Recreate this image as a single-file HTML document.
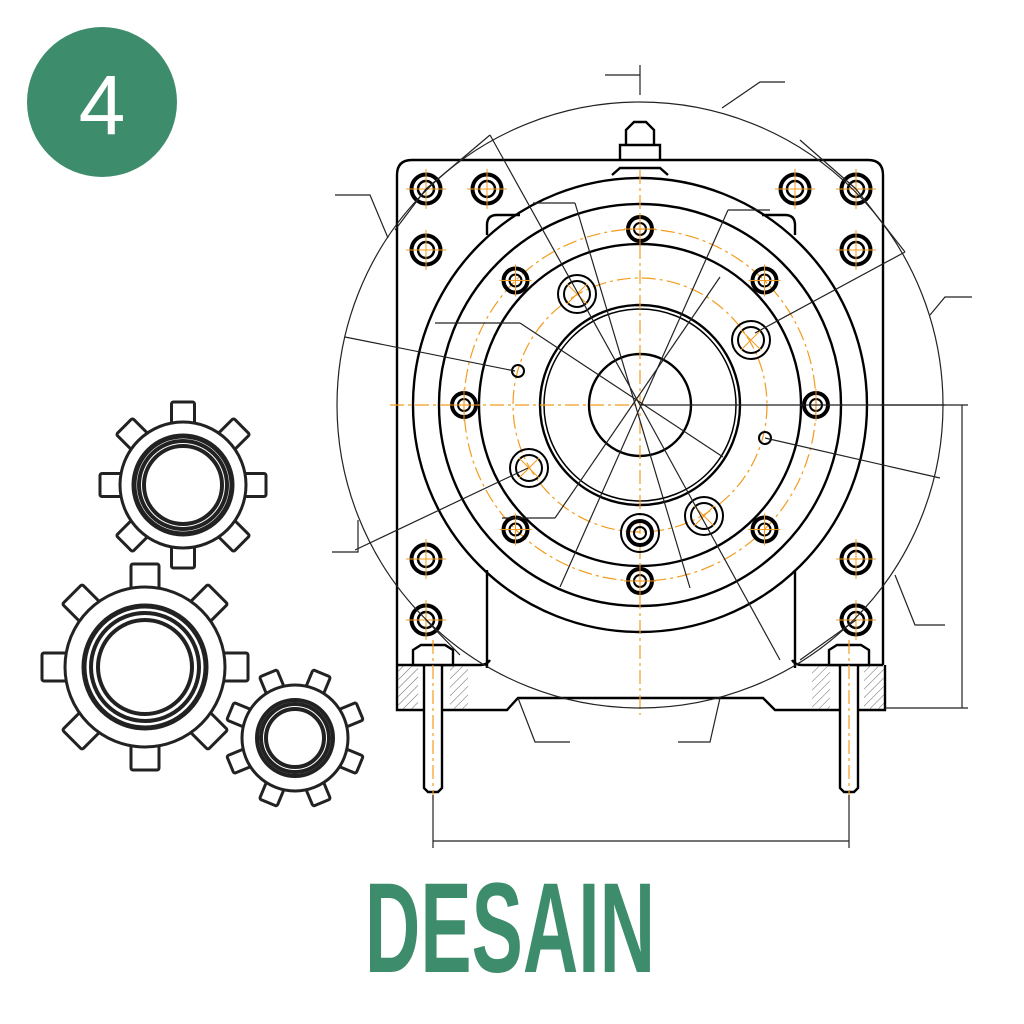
<!DOCTYPE html>
<html><head><meta charset="utf-8"><style>
html,body{margin:0;padding:0;background:#fff;width:1024px;height:1024px;overflow:hidden}
svg{display:block}
</style></head><body>
<svg width="1024" height="1024" viewBox="0 0 1024 1024" xmlns="http://www.w3.org/2000/svg">
<defs>
<pattern id="h" width="6" height="6" patternUnits="userSpaceOnUse" patternTransform="rotate(45)"><line x1="0" y1="0" x2="0" y2="6" stroke="#666" stroke-width="1"/></pattern>
<g id="b">
 <circle r="12" fill="none" stroke="#000" stroke-width="4"/>
 <circle r="6" fill="none" stroke="#000" stroke-width="2"/>
 <path d="M-16,0H16M0,-16V16" stroke="#f39c1f" stroke-width="1"/>
</g>
<g id="c">
 <circle r="14.5" fill="none" stroke="#000" stroke-width="4"/>
 <circle r="8" fill="none" stroke="#000" stroke-width="2.5"/>
 <path d="M-20,0H20M0,-20V20" stroke="#f39c1f" stroke-width="1"/>
</g>
<g id="hl">
 <circle r="19" fill="none" stroke="#000" stroke-width="2"/>
 <circle r="13" fill="none" stroke="#000" stroke-width="2"/>
 <path d="M-10,-10L10,10M-10,10L10,-10" stroke="#f39c1f" stroke-width="1"/>
</g>
</defs>
<circle cx="102" cy="102" r="75" fill="#3d8c6b"/>
<text x="102" y="134" text-anchor="middle" font-family="Liberation Sans, sans-serif" font-size="84" fill="#fff">4</text>
<text x="0" y="972" text-anchor="middle" font-family="Liberation Sans Narrow, Liberation Sans, sans-serif" font-weight="bold" font-size="128" fill="#3d8c6b" transform="translate(510 0) scale(0.6 1)">DESAIN</text>

<g fill="#fff" stroke="#222" stroke-width="3" stroke-linejoin="round">
 <g transform="translate(183,485)">
  <rect x="-11.5" y="-83" width="23" height="30" rx="2"/>
  <rect x="-11.5" y="-83" width="23" height="30" rx="2" transform="rotate(45)"/>
  <rect x="-11.5" y="-83" width="23" height="30" rx="2" transform="rotate(90)"/>
  <rect x="-11.5" y="-83" width="23" height="30" rx="2" transform="rotate(135)"/>
  <rect x="-11.5" y="-83" width="23" height="30" rx="2" transform="rotate(180)"/>
  <rect x="-11.5" y="-83" width="23" height="30" rx="2" transform="rotate(225)"/>
  <rect x="-11.5" y="-83" width="23" height="30" rx="2" transform="rotate(270)"/>
  <rect x="-11.5" y="-83" width="23" height="30" rx="2" transform="rotate(315)"/>
  <circle r="63"/>
  <circle r="49" stroke-width="5" fill="none"/><circle r="44" stroke-width="4" fill="none"/><circle r="39" stroke-width="4" fill="none"/>
 </g>
 <g transform="translate(145,667)">
  <rect x="-14" y="-103" width="28" height="36" rx="2"/>
  <rect x="-14" y="-103" width="28" height="36" rx="2" transform="rotate(45)"/>
  <rect x="-14" y="-103" width="28" height="36" rx="2" transform="rotate(90)"/>
  <rect x="-14" y="-103" width="28" height="36" rx="2" transform="rotate(135)"/>
  <rect x="-14" y="-103" width="28" height="36" rx="2" transform="rotate(180)"/>
  <rect x="-14" y="-103" width="28" height="36" rx="2" transform="rotate(225)"/>
  <rect x="-14" y="-103" width="28" height="36" rx="2" transform="rotate(270)"/>
  <rect x="-14" y="-103" width="28" height="36" rx="2" transform="rotate(315)"/>
  <circle r="80"/>
  <circle r="61" stroke-width="5" fill="none"/><circle r="54" stroke-width="4" fill="none"/><circle r="47" stroke-width="4" fill="none"/>
 </g>
 <g transform="translate(295,738)">
  <rect x="-9.5" y="-70" width="19" height="25" rx="2" transform="rotate(22.5)"/>
  <rect x="-9.5" y="-70" width="19" height="25" rx="2" transform="rotate(67.5)"/>
  <rect x="-9.5" y="-70" width="19" height="25" rx="2" transform="rotate(112.5)"/>
  <rect x="-9.5" y="-70" width="19" height="25" rx="2" transform="rotate(157.5)"/>
  <rect x="-9.5" y="-70" width="19" height="25" rx="2" transform="rotate(202.5)"/>
  <rect x="-9.5" y="-70" width="19" height="25" rx="2" transform="rotate(247.5)"/>
  <rect x="-9.5" y="-70" width="19" height="25" rx="2" transform="rotate(292.5)"/>
  <rect x="-9.5" y="-70" width="19" height="25" rx="2" transform="rotate(337.5)"/>
  <circle r="53"/>
  <circle r="38" stroke-width="4" fill="none"/><circle r="34" stroke-width="4" fill="none"/><circle r="29" stroke-width="4" fill="none"/>
 </g>
</g>

<g fill="none" stroke="#000" stroke-width="2.4">
 <path d="M397,665 V175 Q397,160 412,160 H868 Q883,160 883,175 V665"/>
 <path d="M487,235 V225 Q487,215 497,215 H520 M795,235 V225 Q795,215 785,215 H762"/>
 <path d="M487,570 V668 M795,570 V668"/>
 <path d="M397,665 H480 Q487,665 490,660 M883,665 H802 Q795,665 792,660"/>
 <path d="M397,665 V710 H507 L518,698 H763 L775,710 H885 V665"/>
 <rect x="398" y="666" width="20" height="43" fill="url(#h)" stroke="none"/>
 <rect x="450" y="666" width="18" height="43" fill="url(#h)" stroke="none"/>
 <rect x="812" y="666" width="18" height="43" fill="url(#h)" stroke="none"/>
 <rect x="864" y="666" width="20" height="43" fill="url(#h)" stroke="none"/>
 <path d="M620,160 V145 H660 V160 M626,145 V130 L634,122 H646 L654,130 V145 M612,175 L620,168 H660 L668,175"/>
 <circle cx="640" cy="405" r="227"/>
 <circle cx="640" cy="405" r="201"/>
 <circle cx="640" cy="405" r="161"/>
 <circle cx="640" cy="405" r="100"/>
 <circle cx="640" cy="405" r="96" stroke-width="1.5"/>
 <circle cx="640" cy="405" r="51"/>
 <path d="M413,650 V665 H453 V650 L445,645 H421 Z M424,665 V788 L428,792 H438 L442,788 V665" fill="#fff"/>
 <path d="M829,650 V665 H869 V650 L861,645 H837 Z M840,665 V788 L844,792 H854 L858,788 V665" fill="#fff"/>
</g>
<g fill="none" stroke="#f39c1f" stroke-width="1.2" stroke-dasharray="14 4 3 4">
 <circle cx="640" cy="405" r="176"/>
 <circle cx="640" cy="405" r="127"/>
 <line x1="640" y1="170" x2="640" y2="715"/>
 <line x1="390" y1="405" x2="640" y2="405"/>
 <line x1="433" y1="640" x2="433" y2="800"/>
 <line x1="849" y1="640" x2="849" y2="800"/>
</g>
<g>
 <use href="#c" x="426" y="189"/><use href="#c" x="487" y="189"/><use href="#c" x="426" y="250"/>
 <use href="#c" x="795" y="189"/><use href="#c" x="856" y="189"/><use href="#c" x="856" y="250"/>
 <use href="#c" x="426" y="559"/><use href="#c" x="426" y="620"/><use href="#c" x="856" y="559"/><use href="#c" x="856" y="620"/>
 <use href="#b" x="816" y="405"/><use href="#b" x="764.5" y="529.5"/><use href="#b" x="640" y="581"/><use href="#b" x="515.5" y="529.5"/>
 <use href="#b" x="464" y="405"/><use href="#b" x="515.5" y="280.5"/><use href="#b" x="640" y="229"/><use href="#b" x="764.5" y="280.5"/>
 <circle cx="640" cy="533" r="12" fill="none" stroke="#000" stroke-width="4"/>
 <circle cx="640" cy="533" r="6" fill="none" stroke="#000" stroke-width="2"/>
 <circle cx="640" cy="533" r="19" fill="none" stroke="#000" stroke-width="2"/>
 <use href="#hl" x="577" y="294"/><use href="#hl" x="751" y="340"/><use href="#hl" x="529" y="468"/><use href="#hl" x="704" y="516"/>
 <circle cx="518" cy="371" r="6" fill="none" stroke="#000" stroke-width="2"/>
 <circle cx="765" cy="438" r="6" fill="none" stroke="#000" stroke-width="2"/>
</g>
<g fill="none" stroke="#222" stroke-width="1.2">
 <circle cx="640" cy="405" r="303"/>
 <line x1="640" y1="405" x2="945" y2="405"/>
 <path d="M640,65 V95 M605,75 H640"/>
 <path d="M722,108 L760,82 H785"/>
 <path d="M388,238 L370,195 H335"/>
 <path d="M930,315 L945,297 H972"/>
 <path d="M358,520 V552 H332"/>
 <path d="M895,575 L915,625 H945"/>
 <path d="M518,698 L535,742 H570 M720,698 L710,742 H678"/>
 <line x1="433" y1="795" x2="433" y2="848"/><line x1="849" y1="795" x2="849" y2="848"/>
 <line x1="433" y1="841" x2="849" y2="841"/>
 <path d="M880,405 H968 M885,708 H968 M962,405 V708"/>
 <line x1="490" y1="135" x2="640" y2="405"/><line x1="640" y1="405" x2="780" y2="660"/>
 <line x1="575" y1="203" x2="690" y2="588"/><line x1="575" y1="203" x2="533" y2="203"/>
 <line x1="728" y1="210" x2="560" y2="587"/><line x1="728" y1="210" x2="770" y2="210"/>
 <line x1="435" y1="323" x2="520" y2="323"/><line x1="520" y1="323" x2="723" y2="457"/>
 <line x1="345" y1="337" x2="515" y2="371"/><line x1="765" y1="438" x2="940" y2="478"/>
 <line x1="755" y1="333" x2="905" y2="252"/><line x1="355" y1="550" x2="528" y2="468"/>
 <line x1="720" y1="277" x2="555" y2="518"/><line x1="555" y1="518" x2="502" y2="518"/>
 <line x1="426" y1="189" x2="490" y2="135"/><line x1="856" y1="189" x2="800" y2="140"/>
 <line x1="856" y1="189" x2="905" y2="252"/><line x1="426" y1="620" x2="460" y2="655"/>
 <line x1="856" y1="620" x2="800" y2="660"/><line x1="426" y1="189" x2="395" y2="230"/>
</g>
</svg>
</body></html>
